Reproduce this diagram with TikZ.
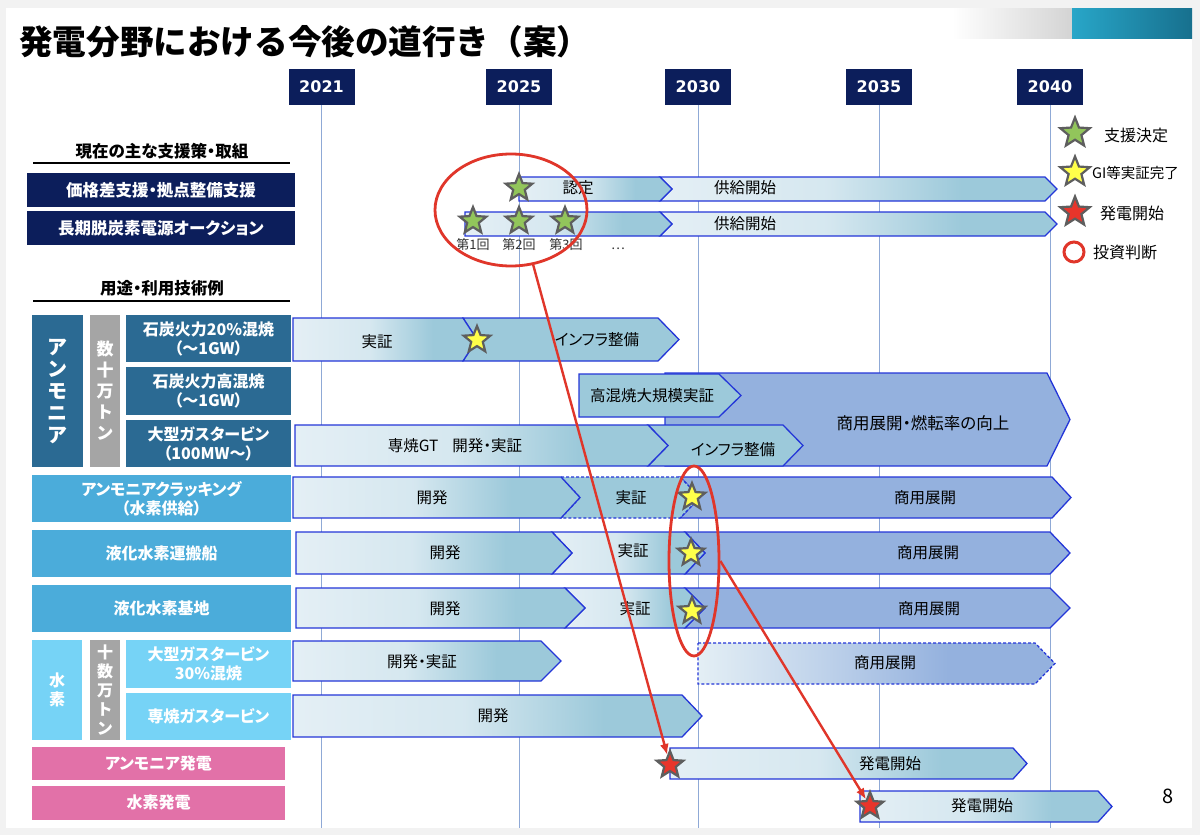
\documentclass[tikz,border=0pt]{standalone}
\usepackage{fontspec}
\setmainfont[RawFeature=+palt]{Noto Sans CJK JP}
\newfontfamily\jpwide{Noto Sans CJK JP}
\newfontfamily\numfont{DejaVu Sans}
\usetikzlibrary{shapes.geometric,arrows.meta}
\definecolor{pagebg}{HTML}{F2F2F2}
\definecolor{navy}{HTML}{0C1E5B}
\definecolor{amm}{HTML}{2B6A93}
\definecolor{grayb}{HTML}{A5A5A5}
\definecolor{lb}{HTML}{4BACDA}
\definecolor{cyanb}{HTML}{76D3F6}
\definecolor{pinkb}{HTML}{E271A8}
\definecolor{gridc}{HTML}{8FA9D6}
\definecolor{bL}{HTML}{E4EFF5}
\definecolor{bD}{HTML}{9CC9DA}
\definecolor{bP}{HTML}{94B1DE}
\definecolor{bbord}{HTML}{2436D8}
\definecolor{starb}{HTML}{5E5E5E}
\definecolor{sg}{HTML}{92C55B}
\definecolor{sy}{HTML}{FFFF4A}
\definecolor{sr}{HTML}{E8352B}
\definecolor{redc}{HTML}{E0362A}
\definecolor{teal1}{HTML}{28A6C8}
\definecolor{teal2}{HTML}{17708E}
\colorlet{bM}{bL!80!bD}
\colorlet{pM}{bL!55!bP}
\pgfdeclarehorizontalshading{barshade}{100bp}{color(0bp)=(bL); color(25bp)=(bL); color(46bp)=(bM); color(63bp)=(bD); color(100bp)=(bD)}
\pgfdeclarehorizontalshading{pshade}{100bp}{color(0bp)=(bL); color(25bp)=(bL); color(42bp)=(pM); color(60bp)=(bP); color(100bp)=(bP)}
\newcommand\chevR[6]{\path[#1] (#2,#4) -- ({#3-#6},#4) -- (#3,{(#4+#5)/2}) -- ({#3-#6},#5) -- (#2,#5) -- cycle;}
\newcommand\chevN[7]{\path[#1] (#2,#4) -- ({#3-#6},#4) -- (#3,{(#4+#5)/2}) -- ({#3-#6},#5) -- (#2,#5) -- ({#2+#7},{(#4+#5)/2}) -- cycle;}
\tikzset{
  barG/.style={draw=bbord, line width=1.3pt, shading=barshade},
  barD/.style={draw=bbord, line width=1.3pt, fill=bD},
  barP/.style={draw=bbord, line width=1.3pt, fill=bP},
  barPG/.style={draw=bbord, line width=1.3pt, shading=pshade},
  dsh/.style={dash pattern=on 3pt off 2pt},
  bt/.style={font=\fontsize{15.5}{18}\selectfont, inner sep=0, text=black},
  lab/.style={text=white, font=\fontsize{16}{19}\selectfont\bfseries, align=center, inner sep=0},
  navybox/.style={lab, fill=navy, minimum width=268, minimum height=34, font=\fontsize{16.5}{19}\selectfont\bfseries},
  ammbox/.style={lab, fill=amm},
  lbbox/.style={lab, fill=lb, minimum width=259, minimum height=47},
  cybox/.style={lab, fill=cyanb},
  pkbox/.style={lab, fill=pinkb, minimum width=253},
  grbox/.style={lab, fill=grayb},
  yearbox/.style={fill=navy, text=white, font=\numfont\bfseries\fontsize{16}{18}\selectfont, minimum width=66, minimum height=36, inner sep=0},
  gridl/.style={draw=gridc, line width=0.9pt},
  starbase/.style={star, star points=5, star point ratio=2.3, minimum size=28, inner sep=0, draw=starb, line width=2.2pt},
  gstar/.style={starbase, fill=sg},
  ystar/.style={starbase, fill=sy},
  rstar/.style={starbase, fill=sr},
  head/.style={font=\fontsize{16.5}{19}\selectfont\bfseries, inner sep=0},
  lgt/.style={font=\fontsize{16}{19}\selectfont, inner sep=0, anchor=west},
  small/.style={font=\jpwide\fontsize{13}{15}\selectfont, inner sep=0, text=black!80},
  oval/.style={ellipse, draw=redc, line width=2.8pt, inner sep=0},
  redarr/.style={draw=redc, line width=2.4pt, -{Latex[length=11pt,width=9pt]}}
}
\begin{document}
\begin{tikzpicture}[x=1pt,y=-1pt]
\useasboundingbox (0,0) rectangle (1200,835);
\fill[pagebg] (0,0) rectangle (1200,835);
\fill[white] (6,8) rectangle (1192,828);
\shade[left color=white, right color=black!17] (952,8) rectangle (1072,38);
\shade[left color=teal1, right color=teal2] (1072,8) rectangle (1192,38);
\node[anchor=west, font=\jpwide\fontsize{33.6}{38}\selectfont\bfseries, inner sep=0] (title) at (19,42) {発電分野における今後の道行き（案）};
% years and grid
\node[yearbox] (y21) at (321.5,87) {2021};
\node[yearbox] (y25) at (519,87) {2025};
\node[yearbox] (y30) at (698,87) {2030};
\node[yearbox] (y35) at (879,87) {2035};
\node[yearbox] (y40) at (1050,87) {2040};
\coordinate (gb) at (0,828);
\foreach \n in {y21,y25,y30,y35,y40} {\draw[gridl] (\n.south) -- (\n.south |- gb);}
% legend
\node[gstar, minimum size=31] (lg1) at (1075,133) {};
\node[lgt] (lt1) at (1104,135) {支援決定};
\node[ystar, minimum size=31] (lg2) at (1075,172) {};
\node[lgt, font=\fontsize{14.5}{17}\selectfont] (lt2) at (1092,173) {GI等実証完了};
\node[rstar, minimum size=31] (lg3) at (1075,212) {};
\node[lgt] (lt3) at (1100,213) {発電開始};
\node[circle, draw=redc, line width=3pt, minimum size=20, inner sep=0] (lg4) at (1074,252) {};
\node[lgt] (lt4) at (1093,252) {投資判断};
% left headings
\node[head] (h1) at (162,151) {現在の主な支援策・取組};
\draw[line width=1.3pt] (33,163) -- (290,163);
\node[navybox] (p1) at (161,190) {価格差支援・拠点整備支援};
\node[navybox] (p2) at (161,228) {長期脱炭素電源オークション};
\node[head] (h2) at (162,288) {用途・利用技術例};
\draw[line width=1.3pt] (33,301) -- (290,301);
% ammonia block
\node[ammbox, minimum width=51, minimum height=152, font=\fontsize{20}{22}\selectfont\bfseries] (amv) at (57.5,391) {ア\\ン\\モ\\ニ\\ア};
\node[grbox, minimum width=30, minimum height=152, font=\fontsize{17}{21}\selectfont\bfseries] (amg) at (105,391) {数\\十\\万\\ト\\ン};
\node[ammbox, minimum width=165, minimum height=47] (a1) at (208.5,338.5) {石炭火力20\%混焼\\（～1GW）};
\node[ammbox, minimum width=165, minimum height=48] (a2) at (208.5,391) {石炭火力高混焼\\（～1GW）};
\node[ammbox, minimum width=165, minimum height=47] (a3) at (208.5,443.5) {大型ガスタービン\\（100MW～）};
% light blue
\node[lbbox] (b1) at (161.5,498.5) {アンモニアクラッキング\\（水素供給）};
\node[lbbox] (b2) at (161.5,553.5) {液化水素運搬船};
\node[lbbox] (b3) at (161.5,608.5) {液化水素基地};
% hydrogen
\node[cybox, minimum width=50, minimum height=100, font=\fontsize{16}{19}\selectfont\bfseries] (hv) at (57,690) {水\\素};
\node[grbox, minimum width=30, minimum height=100, font=\fontsize{16}{19}\selectfont\bfseries] (hg) at (105,690) {十\\数\\万\\ト\\ン};
\node[cybox, minimum width=165, minimum height=48] (c1) at (208.5,664) {大型ガスタービン\\30\%混焼};
\node[cybox, minimum width=165, minimum height=47] (c2) at (208.5,716.5) {専焼ガスタービン};
% pink
\node[pkbox, minimum height=33] (d1) at (158.5,763.5) {アンモニア発電};
\node[pkbox, minimum height=34] (d2) at (158.5,802.5) {水素発電};
% ---- bars ----
\chevN{barG}{660}{1057}{177}{201}{12}{12}
\chevR{barG}{519}{672}{177}{201}{12}
\chevN{barG}{660}{1057}{212}{236}{12}{12}
\chevR{barG}{465}{672}{212}{236}{12}
\chevN{barD}{463}{679}{318}{361}{21}{14}
\chevR{barG}{293}{477}{318}{361}{14}
\chevR{barP}{665}{1070}{373}{466}{23}
\chevR{barD}{579}{741}{374}{417}{22}
\chevN{barD}{648}{803}{425}{466}{20}{20}
\chevR{barG}{295}{668}{425}{466}{20}
\chevN{barP}{680}{1071}{477}{518}{19}{20}
\chevN{barD,dsh}{561}{700}{477}{518}{20}{19}
\chevR{barG}{293}{580}{477}{518}{19}
\chevN{barP}{685}{1070}{532}{574}{20}{20}
\chevN{barG}{552}{705}{532}{574}{20}{20}
\chevR{barG}{296}{572}{532}{574}{20}
\chevN{barP}{685}{1070}{588}{628}{20}{20}
\chevN{barG}{565}{705}{588}{628}{20}{20}
\chevR{barG}{296}{585}{588}{628}{20}
\chevR{barG}{293}{561}{641}{681}{20}
\chevR{barPG,dsh}{698}{1055}{643}{684}{20}
\chevR{barG}{293}{702}{695}{737}{20}
\chevR{barG}{670}{1027}{748}{779}{14}
\chevR{barG}{860}{1112}{791}{822}{14}
% bar texts
\node[bt] (t1) at (578,188) {認定};
\node[bt] (t2) at (745,188) {供給開始};
\node[bt] (t3) at (745,224) {供給開始};
\node[bt] (t4) at (377,342) {実証};
\node[bt] (t5) at (597,340) {インフラ整備};
\node[bt] (t6) at (652,396) {高混焼大規模実証};
\node[bt, font=\fontsize{16.5}{19}\selectfont] (t7) at (923,423) {商用展開・燃転率の向上};
\node[bt] (t8) at (455,446) {専焼GT\hspace{0.9em}開発・実証};
\node[bt] (t9) at (733,450) {インフラ整備};
\node[bt] (t10) at (432,498) {開発};
\node[bt] (t11) at (631,498) {実証};
\node[bt] (t12) at (925,498) {商用展開};
\node[bt] (t13) at (445,553) {開発};
\node[bt] (t14) at (633,551) {実証};
\node[bt] (t15) at (928,553) {商用展開};
\node[bt] (t16) at (445,609) {開発};
\node[bt] (t17) at (635,609) {実証};
\node[bt] (t18) at (929,609) {商用展開};
\node[bt] (t19) at (422,662) {開発・実証};
\node[bt] (t20) at (885,663) {商用展開};
\node[bt] (t21) at (493,716) {開発};
\node[bt] (t22) at (890,764) {発電開始};
\node[bt] (t23) at (982,806) {発電開始};
% stars
\node[gstar] (s1) at (519,188) {};
\node[gstar] (s2a) at (473,221) {};
\node[gstar] (s2b) at (519,221) {};
\node[gstar] (s2c) at (565,221) {};
\node[small] (n1) at (473,245) {第1回};
\node[small] (n2) at (519,245) {第2回};
\node[small] (n3) at (566,245) {第3回};
\node[small] (dots) at (618,249) {…};
\node[ystar] (ya1) at (477,340) {};
\node[ystar] (yb1) at (692,497) {};
\node[ystar] (yb2) at (691,553) {};
\node[ystar] (yb3) at (692,611) {};
\node[rstar] (rs1) at (670,765) {};
\node[rstar] (rs2) at (870,806) {};
% ovals and arrows
\node[oval, minimum width=152, minimum height=112] (ov1) at (511,210) {};
\node[oval, minimum width=50, minimum height=190] (ov2) at (694,561) {};
\draw[redarr] (ov1.-68) -- (rs1);
\draw[redarr] (ov2.east) -- (rs2);
\node[font=\fontsize{20}{22}\selectfont, inner sep=0] (pg) at (1168,796) {8};
\end{tikzpicture}
\end{document}
